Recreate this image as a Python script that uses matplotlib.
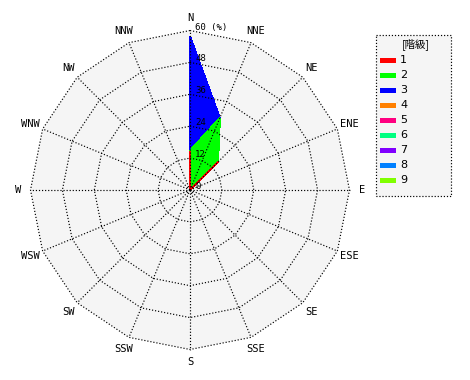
import numpy as np
import matplotlib.pyplot as plt
from matplotlib.patches import Polygon, Rectangle

# wind directions (clockwise from north)
directions = ['N', 'NNE', 'NE', 'ENE', 'E', 'ESE', 'SE', 'SSE',
              'S', 'SSW', 'SW', 'WSW', 'W', 'WNW', 'NW', 'NNW']

# frequency (%) per class and direction
class_1 = [14.6, 0, 14.8, 0, 0, 0, 0, 0, 0, 0, 0, 0, 0, 0, 0, 0]
class_2 = [0, 29.2, 0, 0, 0, 0, 0, 0, 0, 0, 0, 0, 0, 0, 0, 0]
class_3 = [43.0, 0, 0, 0, 0, 0, 0, 0, 0, 0, 0, 0, 0, 0, 0, 0]
class_4 = [0] * 16
class_5 = [0] * 16
class_6 = [0] * 16
class_7 = [0] * 16
class_8 = [0] * 16
class_9 = [0] * 16

class_labels = ['1', '2', '3', '4', '5', '6', '7', '8', '9']
class_colors = ['#ff0000', '#00ff00', '#0000ff', '#ff8000', '#ff0080',
                '#00ff80', '#8000ff', '#0080ff', '#80ff00']

ring_ticks = [0, 12, 24, 36, 48, 60]

freq = np.array([class_1, class_2, class_3, class_4, class_5,
                 class_6, class_7, class_8, class_9])
cum = np.cumsum(freq, axis=0)

theta = np.deg2rad(np.arange(16) * 22.5)
rmax = ring_ticks[-1]


def xy(r):
    r = np.asarray(r, dtype=float)
    return np.column_stack([r * np.sin(theta), r * np.cos(theta)])


fig = plt.figure(figsize=(4.7, 3.8), dpi=100)
ax = fig.add_axes([0, 0, 1, 1])
scale = 159.5 / rmax  # pixels per percent
ax.set_xlim(-190 / scale, 280 / scale)
ax.set_ylim(-190 / scale, 190 / scale)
ax.set_aspect('equal')
ax.axis('off')

# background of the rose
ax.add_patch(Polygon(xy([rmax] * 16), closed=True, facecolor='#f5f5f5',
                     edgecolor='none', zorder=0))

# stacked classes, outer first
for k in range(len(class_labels) - 1, -1, -1):
    ax.add_patch(Polygon(xy(cum[k]), closed=True, facecolor=class_colors[k],
                         edgecolor=class_colors[k], lw=1.0,
                         antialiased=False, zorder=1))

# grid: small dots
dots = (0, (1, 1.6))
for r in ring_ticks[1:]:
    pts = xy([r] * 16)
    pts = np.vstack([pts, pts[:1]])
    ax.plot(pts[:, 0], pts[:, 1], color='black', lw=0.85, ls=dots, zorder=2)
for t in theta:
    ax.plot([0, rmax * np.sin(t)], [0, rmax * np.cos(t)], color='black',
            lw=0.85, ls=dots, zorder=2)

# ring labels along north axis
for r in ring_ticks:
    txt = f'{r} (%)' if r == rmax else str(r)
    ax.text(1.9, r + 1.3, txt, fontsize=6.5, family='DejaVu Sans Mono',
            ha='left', va='center', zorder=3)

# direction labels
lab_r = 64.8
for d, t in zip(directions, theta):
    ax.text(lab_r * np.sin(t), lab_r * np.cos(t), d, fontsize=7.5,
            family='DejaVu Sans Mono', ha='center', va='center', zorder=3)

# legend (pixel coordinates)
lax = fig.add_axes([0, 0, 1, 1])
lax.set_xlim(0, 470)
lax.set_ylim(380, 0)
lax.axis('off')
lax.patch.set_visible(False)
lax.add_patch(Rectangle((375.5, 35), 75, 160.5, facecolor='#f5f5f5',
                        edgecolor='black', lw=0.85, ls=dots))
lax.text(416, 44, '[階級]', fontsize=7.5,
         family=['Noto Sans CJK JP', 'DejaVu Sans'], ha='center', va='center')
for i, (lab, c) in enumerate(zip(class_labels, class_colors)):
    y = 60 + 15 * i
    lax.add_patch(Rectangle((380, y - 2), 16, 4.5, facecolor=c,
                            edgecolor='none'))
    lax.text(400, y, lab, fontsize=8, ha='left', va='center')

fig.savefig('out.png', dpi=100)
